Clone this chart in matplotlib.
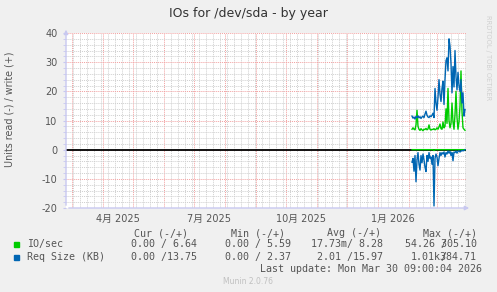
import matplotlib
matplotlib.use('Agg')
import matplotlib.pyplot as plt
import matplotlib.dates as mdates
from matplotlib.ticker import MultipleLocator
import pandas as pd

plt.rcParams['axes.unicode_minus'] = False

# daily samples (munin year graph), Feb 4 .. Mar 29 2026
dates = pd.date_range('2026-02-04 09:00', periods=54, freq='D')

io_write = [7.0, 7.5, 7.0, 6.8, 8.5, 13.5, 8.0, 7.0, 6.6, 7.2,
            6.8, 6.5, 7.0, 6.9, 7.3, 6.8, 7.1, 8.5, 7.0, 6.7,
            7.0, 6.9, 7.2, 6.8, 7.0, 7.5, 7.0, 7.8, 8.8, 7.2,
            7.0, 9.5, 7.5, 8.0, 14.0, 9.0, 21.0, 10.0, 7.5, 9.0,
            16.0, 9.5, 7.0, 12.0, 20.0, 11.0, 7.0, 9.5, 15.0, 27.0,
            13.0, 7.5, 7.0, 6.64]
io_read = [0.0, 0.0, 0.0, 0.0, 0.0, 0.0, 0.0, 0.0, 0.0, 0.0,
           0.0, 0.0, 0.0, 0.0, 0.0, 0.0, 0.0, 0.0, 0.0, 0.0,
           0.0, 0.0, 0.3, 0.0, 0.0, 0.0, 0.0, 0.0, 0.0, 0.0,
           0.0, 0.0, 0.0, 0.0, 0.0, 0.0, 0.0, 0.0, 0.0, 0.0,
           0.0, 0.0, 0.0, 0.0, 0.0, 0.0, 0.0, 0.0, 0.0, 0.0,
           0.0, 0.0, 0.0, 0.0]
req_write = [11.5, 10.8, 11.2, 10.5, 11.4, 11.0, 11.6, 10.9, 11.3, 10.7,
             11.2, 11.5, 11.0, 12.2, 13.2, 11.8, 11.2, 11.0, 11.6, 11.3,
             11.8, 12.5, 11.0, 21.0, 16.0, 13.5, 18.0, 24.0, 19.0, 16.5,
             21.0, 23.5, 15.5, 24.0, 30.5, 31.5, 27.0, 38.0, 35.5, 29.5,
             19.5, 28.5, 21.5, 34.0, 25.0, 20.5, 26.5, 22.0, 20.0, 24.0,
             16.0, 19.5, 11.5, 13.75]
req_read = [4.3, 3.0, 7.4, 2.0, 11.0, 3.5, 1.0, 5.0, 7.0, 2.0,
            4.5, 1.5, 3.5, 6.0, 7.5, 2.0, 4.0, 1.0, 3.0, 2.5,
            5.0, 2.0, 19.3, 3.0, 1.5, 2.5, 5.5, 3.0, 1.0, 2.0,
            1.0, 1.5, 0.8, 2.5, 1.0, 1.5, 0.5, 1.2, 0.6, 2.0,
            1.0, 3.8, 0.8, 1.0, 0.5, 1.2, 0.6, 0.4, 0.8, 0.5,
            0.3, 0.4, 0.3, 0.0]

label_dates = ['2025-04-16', '2025-07-16', '2025-10-16', '2026-01-16']
label_texts = ['4月 2025', '7月 2025', '10月 2025', '1月 2026']

series_names = ['IO/sec', 'Req Size (KB)']
series_colors = ['#00CC00', '#0066B3']
cur_vals = ['0.00 / 6.64', '0.00 /13.75']
min_vals = ['0.00 / 5.59', '0.00 / 2.37']
avg_vals = ['17.73m/ 8.28', '2.01 /15.97']
max_vals = ['54.26 305.10', '1.01k384.71']   # the slash overlaps in the original
max_slash = ['      /     ', '     /     ']

start = pd.Timestamp('2025-02-23 09:00')
end = pd.Timestamp('2026-03-30 09:00')

fig = plt.figure(figsize=(4.97, 2.92), dpi=100, facecolor='#F0F0F0')
ax = fig.add_axes([66 / 497, 84 / 292, 400 / 497, 175 / 292])
ax.set_facecolor('white')

ax.set_xlim(start, end)
ax.set_ylim(-20, 40)

# grid like rrdtool
ax.xaxis.set_major_locator(mdates.MonthLocator())
ax.xaxis.set_minor_locator(mdates.WeekdayLocator(byweekday=mdates.SU))
ax.yaxis.set_major_locator(MultipleLocator(10))
ax.yaxis.set_minor_locator(MultipleLocator(2))
ax.grid(which='minor', color='#CFCFCF', linestyle=(0, (1, 1)), linewidth=0.7)
ax.grid(which='major', color='#F2A0A0', linestyle=(0, (1, 1)), linewidth=0.7)
ax.set_axisbelow(True)
ax.tick_params(axis='x', which='both', length=0, labelbottom=False)
ax.tick_params(axis='y', which='both', length=2, color='#C8C8F0',
               labelsize=7, labelcolor='#555555', pad=4)
ax.set_yticklabels([str(int(v)) for v in ax.get_yticks()])
for s in ax.spines.values():
    s.set_visible(False)

for d, t in zip(label_dates, label_texts):
    ax.text(mdates.date2num(pd.Timestamp(d)), -0.065, t, transform=ax.get_xaxis_transform(),
            ha='center', va='center', fontsize=7, color='#555555',
            family=['DejaVu Sans', 'Noto Sans CJK SC'])

ax.axhline(0, color='black', linewidth=1.3, zorder=2)

ax.plot(dates, io_write, color=series_colors[0], linewidth=1.0, zorder=3)
ax.plot(dates, [-v for v in io_read], color=series_colors[0], linewidth=1.0, zorder=3)
ax.plot(dates, req_write, color=series_colors[1], linewidth=1.0, zorder=4)
ax.plot(dates, [-v for v in req_read], color=series_colors[1], linewidth=1.0, zorder=4)

# axes with arrows
ax.annotate('', xy=(1.015, 0), xytext=(0, 0), xycoords='axes fraction',
            arrowprops=dict(arrowstyle='-|>', color='#C8C8F0', lw=1, mutation_scale=6),
            annotation_clip=False)
ax.annotate('', xy=(0, 1.035), xytext=(0, 0), xycoords='axes fraction',
            arrowprops=dict(arrowstyle='-|>', color='#C8C8F0', lw=1, mutation_scale=6),
            annotation_clip=False)

def fx(px):
    return px / 497

def fy(py):
    return 1 - py / 292

fig.text(fx(248), fy(13), 'IOs for /dev/sda - by year', ha='center', va='center',
         fontsize=9, color='#333333')
fig.text(fx(10), fy(109), 'Units read (-) / write (+)', rotation=90, ha='center', va='center',
         fontsize=6.9, color='#555555')
fig.text(fx(488), fy(15), 'RRDTOOL / TOBI OETIKER', rotation=270, ha='center', va='top',
         fontsize=4.8, color='#D0D0D0')

mono = dict(family='DejaVu Sans Mono', fontsize=7.2, color='#555555', va='center')
headers = ['Cur (-/+)', 'Min (-/+)', 'Avg (-/+)', 'Max (-/+)']
header_right = [188, 285, 381, 477]
val_right = [197, 291, 383, 477]
for h, r in zip(headers, header_right):
    fig.text(fx(r), fy(233), h, ha='right', **mono)

row_y = [244, 257]
for i, name in enumerate(series_names):
    fig.patches.append(plt.Rectangle((fx(14), fy(row_y[i] + 3)), 5 / 497, 5 / 292,
                                     transform=fig.transFigure, color=series_colors[i]))
    fig.text(fx(27), fy(row_y[i]), name, ha='left', **mono)
    for vals, r in zip([cur_vals, min_vals, avg_vals, max_vals], val_right):
        fig.text(fx(r), fy(row_y[i]), vals[i], ha='right', **mono)
    fig.text(fx(val_right[3]), fy(row_y[i]), max_slash[i], ha='right', **mono)

fig.text(fx(482), fy(269), 'Last update: Mon Mar 30 09:00:04 2026', ha='right', **mono)
fig.text(fx(248), fy(281), 'Munin 2.0.76', ha='center', va='center', fontsize=5.5, color='#C0C0C0')

fig.savefig('out.png', dpi=100, facecolor=fig.get_facecolor())
